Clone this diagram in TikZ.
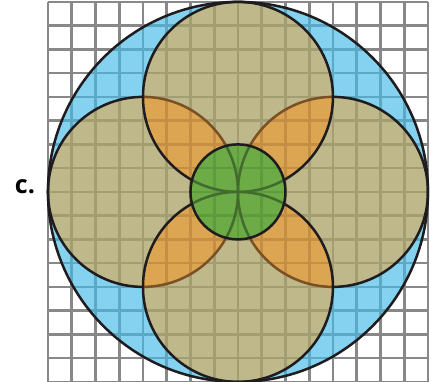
\documentclass[tikz,border=0pt]{standalone}
\usepackage{fontspec}
\setsansfont{Open Sans}
\definecolor{gridgray}{RGB}{136,136,136}
\definecolor{bluefill}{RGB}{132,210,240}
\definecolor{blueline}{RGB}{91,169,196}
\definecolor{tanfill}{RGB}{191,184,138}
\definecolor{tanline}{RGB}{163,157,114}
\definecolor{orangefill}{RGB}{220,165,82}
\definecolor{orangeline}{RGB}{196,143,68}
\definecolor{greenfill}{RGB}{108,171,69}
\definecolor{greenline}{RGB}{94,154,62}
\definecolor{brownedge}{RGB}{122,80,36}
\definecolor{greenedge}{RGB}{66,108,46}
\definecolor{edgeblack}{RGB}{30,28,30}
\begin{document}
\begin{tikzpicture}[x=1cm,y=1cm,
  gridline/.style={line width=3.1pt},
  edge/.style={line width=3pt, edgeblack}]
\useasboundingbox (-10.02,-8.0) rectangle (8.17,8.08);
% background grid
\draw[gridline, gridgray] (-8,-8) grid (8,8);
% big blue disk
\fill[bluefill] (0,0) circle (8);
\begin{scope}
  \clip (0,0) circle (8);
  \draw[gridline, blueline] (-8,-8) grid (8,8);
\end{scope}
% four tan disks
\foreach \cx/\cy in {-4/0, 4/0, 0/4, 0/-4}{
  \fill[tanfill] (\cx,\cy) circle (4);
  \begin{scope}
    \clip (\cx,\cy) circle (4);
    \draw[gridline, tanline] (-8,-8) grid (8,8);
  \end{scope}
}
% orange lenses
\foreach \ax/\ay/\bx/\by in {0/4/-4/0, 0/4/4/0, 0/-4/-4/0, 0/-4/4/0}{
  \begin{scope}
    \clip (\ax,\ay) circle (4);
    \clip (\bx,\by) circle (4);
    \fill[orangefill] (-8,-8) rectangle (8,8);
    \draw[gridline, orangeline] (-8,-8) grid (8,8);
  \end{scope}
}
% inner arcs of left and right circles (seen through)
\draw[edge, brownedge] (-4,-4) arc[start angle=-90, end angle=90, radius=4];
\draw[edge, brownedge] (4,4) arc[start angle=90, end angle=270, radius=4];
% outer arcs of left and right circles
\draw[edge] (-4,4) arc[start angle=90, end angle=270, radius=4];
\draw[edge] (4,-4) arc[start angle=-90, end angle=90, radius=4];
% top and bottom circles
\draw[edge] (0,4) circle (4);
\draw[edge] (0,-4) circle (4);
% green disk
\fill[greenfill] (0,0) circle (2);
\begin{scope}
  \clip (0,0) circle (2);
  \draw[gridline, greenline] (-8,-8) grid (8,8);
  \foreach \cx/\cy in {-4/0, 4/0, 0/4, 0/-4}{
    \draw[edge, greenedge] (\cx,\cy) circle (4);
  }
\end{scope}
\draw[edge] (0,0) circle (2);
% big circle outline
\draw[edge] (0,0) circle (8);
% label
\node[anchor=base, font=\sffamily\bfseries\fontsize{30}{32}\selectfont, inner sep=0pt] (lbl) at (-8.97,-0.05) {c.};
\end{tikzpicture}
\end{document}
